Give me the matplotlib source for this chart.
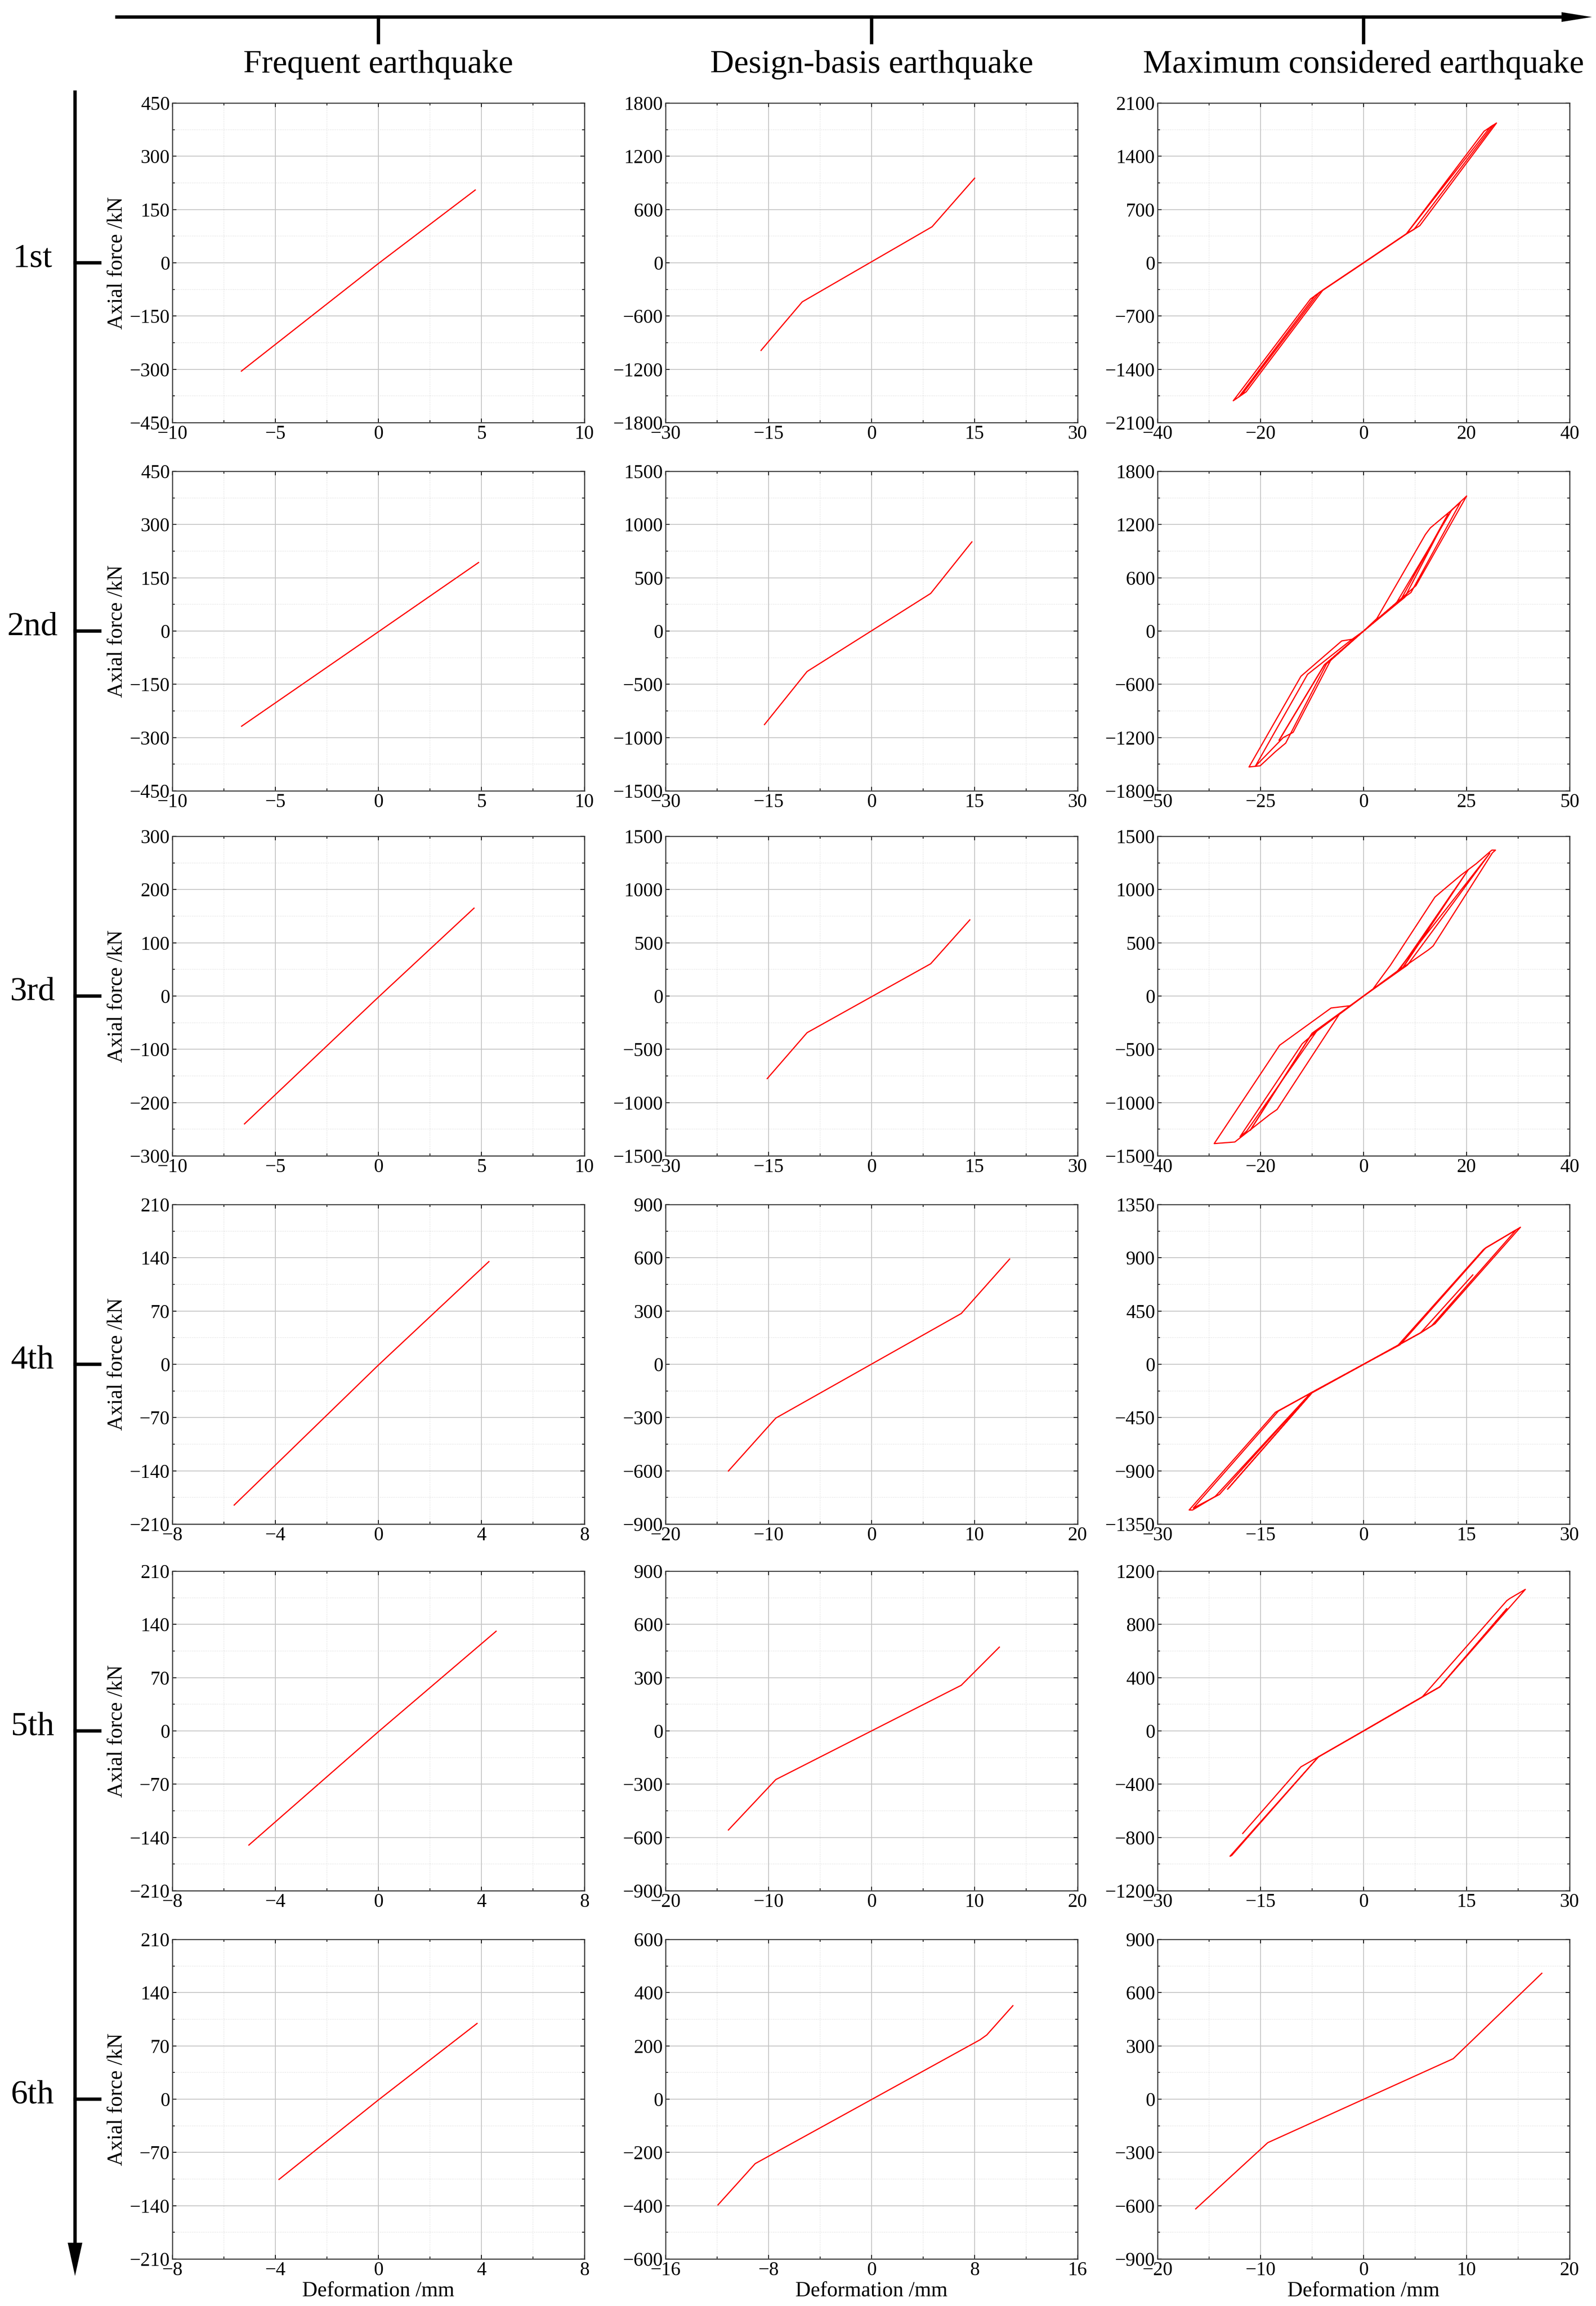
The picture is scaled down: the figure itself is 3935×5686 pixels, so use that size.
import matplotlib
matplotlib.use('Agg')
import matplotlib.pyplot as plt
import numpy as np
from matplotlib.ticker import MultipleLocator, AutoMinorLocator

plt.rcParams['font.family'] = ['Liberation Serif', 'DejaVu Serif']
plt.rcParams['axes.unicode_minus'] = True

# column / row headings
columns = ['Frequent earthquake', 'Design-basis earthquake', 'Maximum considered earthquake']
floors = ['1st', '2nd', '3rd', '4th', '5th', '6th']

# axis ranges per row: (x max, x step, y max, y step) for FE, DBE, MCE
fe_axes = [(10, 5, 450, 150), (10, 5, 450, 150), (10, 5, 300, 100),
           (8, 4, 210, 70), (8, 4, 210, 70), (8, 4, 210, 70)]
dbe_axes = [(30, 15, 1800, 600), (30, 15, 1500, 500), (30, 15, 1500, 500),
            (20, 10, 900, 300), (20, 10, 900, 300), (16, 8, 600, 200)]
mce_axes = [(40, 20, 2100, 700), (50, 25, 1800, 600), (40, 20, 1500, 500),
            (30, 15, 1350, 450), (30, 15, 1200, 400), (20, 10, 900, 300)]

# frequent earthquake (deformation mm, axial force kN)
fe1_x = [-6.65, 0, 4.7]
fe1_y = [-305, -2, 205]
fe2_x = [-6.64, 0, 4.86]
fe2_y = [-268, -2, 193]
fe3_x = [-6.5, 0, 4.64]
fe3_y = [-240, -2, 165]
fe4_x = [-5.6, 0, 4.29]
fe4_y = [-185, -1, 135]
fe5_x = [-5.03, 0, 4.57]
fe5_y = [-150, -1, 131]
fe6_x = [-3.86, 0, 3.83]
fe6_y = [-105.5, -1, 99.5]

# design-basis earthquake
dbe1_x = [-16.1, -10.1, 8.8, 15.0]
dbe1_y = [-987, -440, 406, 953]
dbe2_x = [-15.6, -9.4, 8.6, 14.6]
dbe2_y = [-878, -380, 353, 837]
dbe3_x = [-15.2, -9.4, 8.6, 14.3]
dbe3_y = [-775, -344, 303, 715]
dbe4_x = [-13.9, -9.3, 8.7, 13.4]
dbe4_y = [-601, -303, 286, 593]
dbe5_x = [-13.9, -9.3, 8.7, 12.4]
dbe5_y = [-558, -274, 257, 472]
dbe6_x = [-11.93, -9.04, 8.42, 8.94, 10.97]
dbe6_y = [-397, -242, 223, 241, 351]

# maximum considered earthquake (hysteresis paths)
mce1_x = [0, 8.3, 23.4, 25.8, 10.9, 8.3, 0, -7.9, -10.3, -25.3, -22.8, -7.9, 0,
          8.3, 24.6, 25.2, 9.8, 8.3, 0, -7.9, -9.4, -24.2, -23.6, -8.6, -7.9, 0]
mce1_y = [0, 380, 1730, 1837, 487, 380, 0, -359, -475, -1813, -1696, -359, 0,
          380, 1785, 1810, 440, 380, 0, -359, -430, -1760, -1730, -390, -359, 0]
mce2_x = [0, 3.2, 15.0, 16.2, 21.4, 25.0, 12.7, 8.0, 0, -2.4, -5.3, -15.2, -27.8, -25.1,
          -21.4, -18.9, -9.0, 0, 8.0, 21.4, 23.5, 11.5, 8.0, 0, -3.0, -13.6, -26.3, -19.5,
          -17.1, -8.0, 0, 9.0, 20.5, 10.0, 0, -9.5, -20.5, -9.5, 0]
mce2_y = [0, 140, 1088, 1162, 1364, 1521, 511, 320, 0, -90, -111, -509, -1531, -1518,
          -1359, -1262, -370, 0, 320, 1364, 1450, 434, 320, 0, -100, -488, -1525, -1200,
          -1141, -330, 0, 350, 1320, 380, 0, -380, -1230, -380, 0]
mce3_x = [0, 1.8, 3.9, 5.2, 13.85, 15.4, 18.8, 21.9, 24.9, 25.6, 25.0, 13.5, 12.6, 7.65, 0,
          -2.6, -6.3, -16.3, -29.0, -25.0, -18.1, -16.8, -4.7, 0, 7.0, 20.3, 7.65, 0,
          -9.1, -11.9, -24.0, -22.7, -9.1, 0, 6.5, 24.5, 8.5, 0, -10.0, -22.0, -10.0, 0,
          7.65, 17.4]
mce3_y = [0, 65, 204, 289, 929, 993, 1131, 1244, 1370, 1370, 1344, 470, 434, 268, 0,
          -91, -112, -462, -1385, -1370, -1108, -1065, -170, 0, 250, 1184, 268, 0,
          -329, -447, -1321, -1268, -329, 0, 230, 1340, 290, 0, -350, -1260, -350, 0,
          268, 982]
mce4_x = [0, 5.0, 17.4, 17.6, 22.84, 10.4, 8.3, 5.0, 0, -7.7, -12.85, -25.4, -24.9, -21.6,
          -7.7, 0, 5.3, 17.8, 22.2, 9.9, 8.3, 0, -7.7, -12.4, -24.8, -21.0, -7.7, 0,
          -7.5, -19.8, -7.5, 0, 8.3, 15.9]
mce4_y = [0, 160, 966, 976, 1158, 343, 266, 160, 0, -243, -406, -1231, -1231, -1116,
          -243, 0, 165, 985, 1135, 325, 266, 0, -243, -395, -1215, -1100, -243, 0,
          -240, -1055, -240, 0, 266, 755]
mce5_x = [0, 8.5, 20.85, 21.3, 23.55, 11.08, 8.3, 0, -6.58, -19.45, -19.2, -6.58, 0,
          8.3, 11.08, 20.85, 11.08, 8.3, 0, -6.58, -9.13, -17.6]
mce5_y = [0, 253, 978, 995, 1063, 330, 248, 0, -195, -941, -935, -195, 0,
          248, 330, 918, 330, 248, 0, -195, -270, -770]
mce6_x = [-16.3, -9.3, 8.7, 17.3]
mce6_y = [-618, -245, 228, 709]

fe_data = [(fe1_x, fe1_y), (fe2_x, fe2_y), (fe3_x, fe3_y),
           (fe4_x, fe4_y), (fe5_x, fe5_y), (fe6_x, fe6_y)]
dbe_data = [(dbe1_x, dbe1_y), (dbe2_x, dbe2_y), (dbe3_x, dbe3_y),
            (dbe4_x, dbe4_y), (dbe5_x, dbe5_y), (dbe6_x, dbe6_y)]
mce_data = [(mce1_x, mce1_y), (mce2_x, mce2_y), (mce3_x, mce3_y),
            (mce4_x, mce4_y), (mce5_x, mce5_y), (mce6_x, mce6_y)]

W, H = 3936, 5686
fig = plt.figure(figsize=(W / 300, H / 300), dpi=300)

# overlay in pixel coordinates for the arrows and headings
ov = fig.add_axes([0, 0, 1, 1])
ov.set_xlim(0, W)
ov.set_ylim(H, 0)
ov.axis('off')

col_left = [425, 1641, 2854]
row_top = [254, 1162, 2062, 2970, 3874, 4782]
pw, ph = 1016, 788


def style_axis(ax, lims):
    xm, xs, ym, ys = lims
    ax.set_xlim(-xm, xm)
    ax.set_ylim(-ym, ym)
    ax.xaxis.set_major_locator(MultipleLocator(xs))
    ax.yaxis.set_major_locator(MultipleLocator(ys))
    ax.xaxis.set_minor_locator(AutoMinorLocator(2))
    ax.yaxis.set_minor_locator(AutoMinorLocator(2))
    ax.grid(True, which='major', color='#c4c4c4', linewidth=0.5)
    ax.grid(True, which='minor', color='#dddddd', linewidth=0.4, linestyle=':')
    ax.set_axisbelow(True)
    ax.tick_params(which='both', direction='in', top=True, right=True,
                   labelsize=11.5, width=0.5, pad=1.5)
    ax.tick_params(which='major', length=2.5)
    ax.tick_params(which='minor', length=1.5)
    for s in ax.spines.values():
        s.set_linewidth(0.6)
        s.set_color('#333333')


for r in range(6):
    panels = [(fe_data[r], fe_axes[r]), (dbe_data[r], dbe_axes[r]), (mce_data[r], mce_axes[r])]
    for c, ((xs, ys), lims) in enumerate(panels):
        ax = fig.add_axes([col_left[c] / W, 1 - (row_top[r] + ph) / H, pw / W, ph / H])
        ax.plot(xs, ys, color='red', linewidth=0.7)
        style_axis(ax, lims)
        if c == 0:
            ax.set_ylabel('Axial force /kN', fontsize=12.5, labelpad=2)
        if r == 5:
            ax.set_xlabel('Deformation /mm', fontsize=12.5, labelpad=1)

# top arrow with column headings
ov.plot([284, 3860], [42, 42], color='k', linewidth=2, solid_capstyle='butt')
ov.fill([3850, 3925, 3850], [30, 42, 54], color='k', linewidth=0)
for c, name in enumerate(columns):
    cx = col_left[c] + pw / 2
    ov.plot([cx, cx], [42, 105], color='k', linewidth=2)
    ov.text(cx, 160, name, fontsize=19.5, ha='center', va='center')

# left arrow with floor labels
ov.plot([185, 185], [223, 5540], color='k', linewidth=2, solid_capstyle='butt')
ov.fill([167, 185, 203], [5530, 5612, 5530], color='k', linewidth=0)
for r, name in enumerate(floors):
    cy = row_top[r] + ph / 2
    ov.plot([185, 246], [cy, cy], color='k', linewidth=2)
    ov.text(80, cy - 10, name, fontsize=20, ha='center', va='center')

fig.savefig('out.png', dpi=300)
